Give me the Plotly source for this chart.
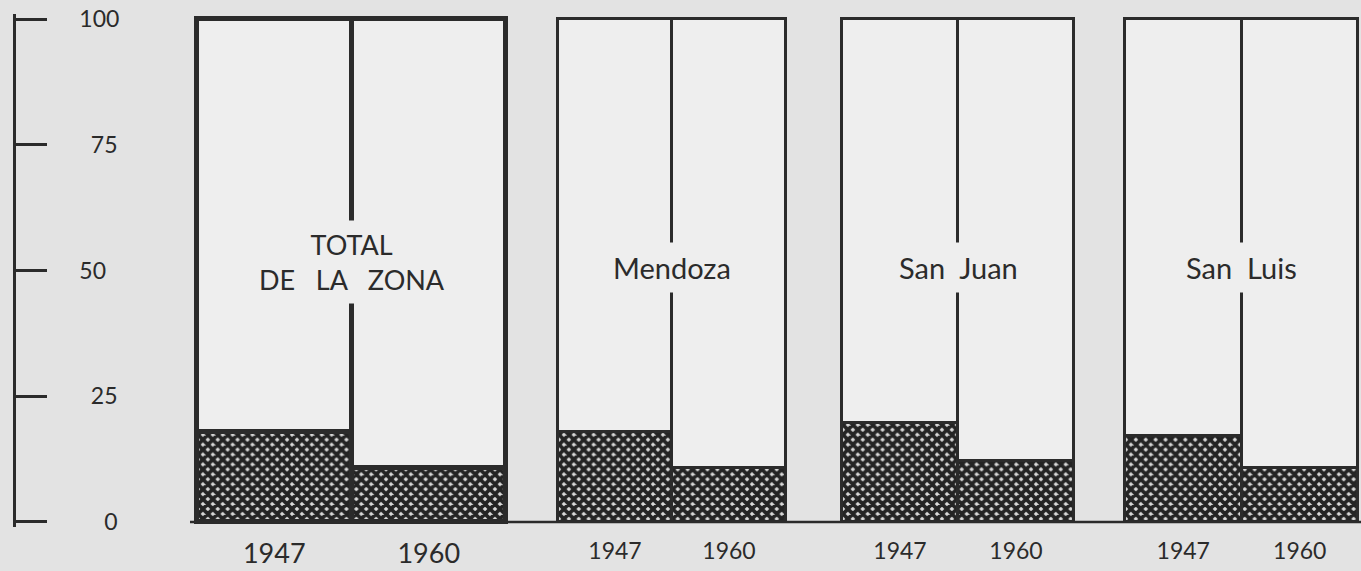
import plotly.graph_objects as go

# ---- data ----
groups = ["TOTAL<br>DE   LA   ZONA", "Mendoza", "San  Juan", "San  Luis"]
years = ["1947", "1960"]
dark_1947 = [17.9, 17.9, 19.7, 17.1]
dark_1960 = [10.8, 10.8, 12.2, 10.8]
y_ticks = [0, 25, 50, 75, 100]
y_ticktext = ["\u2007\u20020", "\u200225", "50", "\u200275", "100"]

# ---- layout constants (pixels) ----
W, H = 1361, 571
edges = [(197, 506), (558, 786), (842, 1074), (1125, 1358)]
line_w = [5, 3, 3, 3]
year_font = [27, 23, 23, 23]
label_y = [51.7, 50.5, 50.5, 50.5]
label_font = [27, 29, 29, 29]
BG = "#e3e3e3"
FILL = "#eeeeee"
INK = "#2b2b2b"
FONT = "Lato"

fig = go.Figure()
layout = {}
for i, (L, R) in enumerate(edges):
    ax = "x" if i == 0 else f"x{i+1}"
    key = "xaxis" if i == 0 else f"xaxis{i+1}"
    dark = [dark_1947[i], dark_1960[i]]
    light = [100 - v for v in dark]
    fig.add_trace(go.Bar(
        x=years, y=dark, xaxis=ax, yaxis="y",
        marker=dict(color="#2e2e2e",
                    line=dict(color=INK, width=line_w[i]),
                    pattern=dict(shape="x", fillmode="replace", bgcolor="#dadada",
                                 fgcolor="#242424", size=7, solidity=0.78)),
        showlegend=False, hoverinfo="skip"))
    fig.add_trace(go.Bar(
        x=years, y=light, xaxis=ax, yaxis="y",
        marker=dict(color=FILL, line=dict(color=INK, width=line_w[i])),
        showlegend=False, hoverinfo="skip"))
    pl = 4
    pr = min(4, W - R)
    u = (R - L) / 2.0
    layout[key] = dict(
        domain=[(L - pl) / W, min(1.0, (R + pr) / W)], anchor="y", type="category",
        categoryorder="array", categoryarray=years,
        range=[-0.5 - pl / u, 1.5 + pr / u],
        showgrid=False, zeroline=False, showline=False, ticks="",
        tickfont=dict(family=FONT, size=year_font[i], color=INK),
        ticklabelstandoff=8, fixedrange=True)
    fig.add_annotation(x=0.5, y=label_y[i], xref=ax, yref="y", text=groups[i],
                       showarrow=False, bgcolor=FILL, borderpad=7,
                       font=dict(family=FONT, size=label_font[i], color=INK))

layout["yaxis"] = dict(
    range=[-1, 101], anchor="free", position=14 / W, side="right",
    tickvals=y_ticks, ticktext=y_ticktext, ticks="outside", ticklen=31,
    tickwidth=2.5, tickcolor=INK, showline=True, linewidth=2.5, linecolor=INK,
    showgrid=False, zeroline=False, ticklabelstandoff=28,
    tickfont=dict(family=FONT, size=23, color=INK), fixedrange=True)

fig.add_shape(type="line", xref="paper", yref="y", x0=190 / W, x1=1, y0=0, y1=0,
              line=dict(color=INK, width=2.5))

fig.update_layout(
    width=W, height=H, margin=dict(l=0, r=0, t=14, b=44),
    paper_bgcolor=BG, plot_bgcolor=BG, barmode="stack", bargap=0,
    showlegend=False, **layout)

fig.write_html(
    "out.html",
    config={"displayModeBar": False},
    post_script=("document.body.style.margin='0';"
                 "document.body.style.background='%s';"
                 "document.body.style.overflow='hidden';"
                 "document.documentElement.style.overflow='hidden';" % BG))
